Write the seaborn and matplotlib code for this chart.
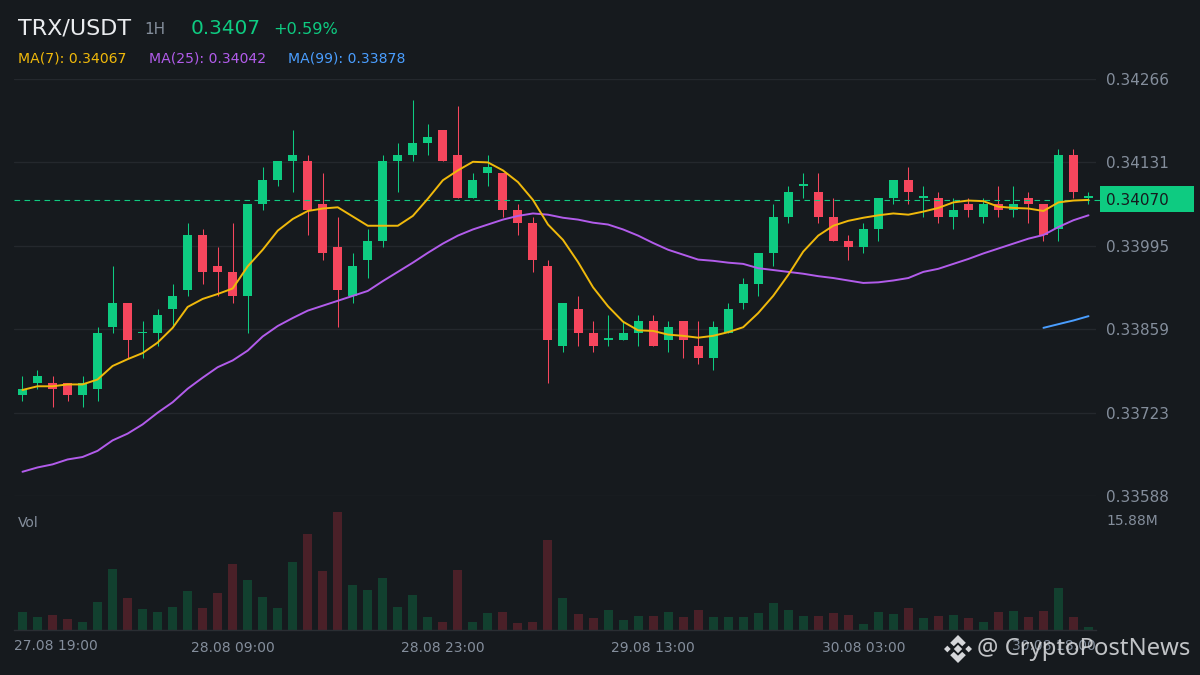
import matplotlib
matplotlib.use("Agg")
import matplotlib.pyplot as plt
from matplotlib.patches import Polygon, Rectangle
import numpy as np
import pandas as pd
import seaborn as sns

# ---- data (prices in USDT, volume in millions) ----
opens = [.3375,.3377,.3377,.3377,.3375,.3376,.3386,.3390,.3385,.3385,.3389,.3392,.3401,.3396,.3395,.3391,.3406,.3410,
         .3413,.3413,.3406,.3399,.3391,.3397,.3400,.3413,.3414,.3416,.3418,.3414,.3407,.3411,.3411,.3405,.3403,.3396,
         .3383,.3389,.3385,.3384,.3384,.3385,.3387,.3384,.3387,.3383,.3381,.3385,.3390,.3393,.3398,.3404,.3409,.3408,
         .3404,.3400,.3399,.3402,.3407,.3410,.3407,.3407,.3404,.3406,.3404,.3406,.3405,.3407,.3406,.3402,.3414,.3407]
highs = [.3378,.3379,.3378,.3377,.3378,.3386,.3396,.3390,.3387,.3389,.3393,.3403,.3402,.3399,.3403,.3406,.3412,.3413,
         .3418,.3414,.3411,.3404,.3398,.3402,.3414,.3416,.3423,.3419,.3418,.3422,.3411,.3414,.3411,.3406,.3404,.3397,
         .3390,.3391,.3387,.3388,.3387,.3388,.3388,.3387,.3387,.3387,.3387,.3390,.3394,.3398,.3406,.3409,.3411,.3411,
         .3407,.3401,.3403,.3407,.3410,.3412,.3409,.3408,.3407,.3407,.3407,.3409,.3409,.3408,.3406,.3415,.3415,.3408]
lows = [.3374,.3376,.3373,.3374,.3373,.3374,.3385,.3381,.3381,.3383,.3386,.3391,.3393,.3391,.3390,.3385,.3405,.3409,
        .3408,.3401,.3397,.3386,.3390,.3394,.3399,.3408,.3413,.3414,.3413,.3407,.3407,.3409,.3404,.3401,.3395,.3377,
        .3382,.3383,.3382,.3383,.3384,.3383,.3383,.3382,.3381,.3380,.3379,.3385,.3389,.3391,.3396,.3403,.3407,.3403,
        .3400,.3397,.3398,.3400,.3406,.3406,.3404,.3403,.3402,.3404,.3403,.3404,.3404,.3403,.3400,.3400,.3407,.3406]
closes = [.3376,.3378,.3376,.3375,.3377,.3385,.3390,.3384,.3385,.3388,.3391,.3401,.3395,.3395,.3391,.3406,.3410,.3413,
          .3414,.3405,.3398,.3392,.3396,.3400,.3413,.3414,.3416,.3417,.3413,.3407,.3410,.3412,.3405,.3403,.3397,.3384,
          .3390,.3385,.3383,.3384,.3385,.3387,.3383,.3386,.3384,.3381,.3386,.3389,.3393,.3398,.3404,.3408,.3409,.3404,
          .3400,.3399,.3402,.3407,.3410,.3408,.3407,.3404,.3405,.3405,.3406,.3405,.3406,.3406,.3401,.3414,.3408,.3407]
ma7 = [.33758,.33764,.33764,.33767,.33767,.33775,.33797,.33808,.33818,.33835,.33859,.33893,.33906,.33914,.33923,.33959,
       .33986,.34017,.34036,.34049,.34053,.34055,.34040,.34025,.34025,.34025,.34041,.34069,.34099,.34115,.34129,.34128,
       .34115,.34096,.34067,.34027,.34002,.33966,.33925,.33894,.33869,.33855,.33854,.33848,.33846,.33843,.33846,.33852,
       .33860,.33883,.33911,.33945,.33983,.34009,.34025,.34033,.34038,.34042,.34045,.34043,.34048,.34054,.34063,.34066,
       .34065,.34056,.34054,.34053,.34049,.34063,.34066,.34067]
ma25 = [.33625,.33632,.33637,.33645,.33649,.33659,.33676,.33687,.33702,.33721,.33738,.33760,.33778,.33795,.33806,.33822,
        .33845,.33862,.33875,.33887,.33895,.33903,.33911,.33919,.33935,.33950,.33965,.33981,.33996,.34009,.34019,.34027,
        .34035,.34041,.34045,.34043,.34038,.34035,.34030,.34027,.34019,.34009,.33997,.33986,.33978,.33970,.33968,.33965,
        .33963,.33956,.33953,.33950,.33947,.33943,.33940,.33936,.33932,.33933,.33936,.33940,.33950,.33955,.33963,.33971,
        .33980,.33988,.33996,.34004,.34010,.34023,.34034,.34042]
ma99_index = [68, 69, 70, 71]
ma99 = [.33859, .33865, .33871, .33878]
volume = [2.42,1.75,2.02,1.48,1.08,3.77,8.21,4.31,2.83,2.42,3.10,5.25,2.96,4.98,8.88,6.73,4.44,2.96,9.15,12.92,7.94,15.88,
          6.06,5.38,7.00,3.10,4.71,1.75,1.08,8.07,1.08,2.29,2.42,0.94,1.08,12.11,4.31,2.15,1.62,2.69,1.35,1.88,1.88,2.42,
          1.75,2.69,1.75,1.75,1.75,2.29,3.63,2.69,1.88,1.88,2.29,2.02,0.81,2.42,2.15,2.96,1.62,1.88,2.02,1.62,1.08,2.42,
          2.56,1.75,2.56,5.65,1.75,0.40]
price_ticks = [0.34266, 0.34131, 0.33995, 0.33859, 0.33723, 0.33588]
x_tick_index = [14, 28, 42, 56]
x_tick_labels = ["28.08 09:00", "28.08 23:00", "29.08 13:00", "30.08 03:00"]
first_label, last_label = "27.08 19:00", "30.08 18:00"
last_price = 0.3407

BG, GRID, TXT = "#161A1E", "#24282D", "#848E9C"
GREEN, RED = "#0ECB81", "#F6465D"
VGREEN, VRED = "#12402F", "#4A2028"
CANDLE_SHIFT = 0.000024   # candles and averages sit about 1.5 px above their axis position in the original

sns.set_theme(style="dark", rc={"figure.facecolor": BG, "axes.facecolor": BG, "savefig.facecolor": BG})
plt.rcParams["font.family"] = ["DejaVu Sans"]

W, H = 1200, 675
fig = plt.figure(figsize=(12, 6.75), dpi=100)

def px_axes(x0, ytop, x1, ybot):
    return fig.add_axes([x0 / W, 1 - ybot / H, (x1 - x0) / W, (ybot - ytop) / H])

df = pd.DataFrame({"i": np.arange(len(opens)), "open": opens, "high": highs, "low": lows, "close": closes,
                   "ma7": ma7, "ma25": ma25, "volume": volume})
df["up"] = df["close"] >= df["open"]
df["color"] = np.where(df["up"], GREEN, RED)

XLIM = (-0.565, 71.50)

# price panel
ax = px_axes(14, 79, 1096, 496)
ax.set_xlim(*XLIM)
ax.set_ylim(price_ticks[-1], price_ticks[0])
ax.set_yticks(price_ticks)
ax.yaxis.tick_right()
ax.set_yticklabels([f"{t:.5f}" for t in price_ticks])
ax.tick_params(axis="y", length=0, pad=7, labelsize=11, labelcolor=TXT)
ax.set_xticks([])
ax.grid(True, axis="y", color=GRID, lw=1)
ax.set_axisbelow(True)
for s in ax.spines.values():
    s.set_visible(False)

ax.vlines(df["i"], df["low"] + CANDLE_SHIFT, df["high"] + CANDLE_SHIFT, colors=df["color"], lw=0.75, zorder=2)
body_low = df[["open", "close"]].min(axis=1)
body_h = (df["close"] - df["open"]).abs().clip(lower=0.00003)
ax.bar(df["i"], body_h, bottom=body_low + CANDLE_SHIFT, width=0.6, color=df["color"], lw=0, zorder=3)

sns.lineplot(x=df["i"], y=df["ma7"] + CANDLE_SHIFT, ax=ax, color="#F0B90B", lw=1.4, zorder=5, legend=False)
sns.lineplot(x=df["i"], y=df["ma25"] + CANDLE_SHIFT, ax=ax, color="#B25CEB", lw=1.4, zorder=4, legend=False)
sns.lineplot(x=ma99_index, y=np.array(ma99) + CANDLE_SHIFT, ax=ax, color="#4A9EFF", lw=1.4, zorder=4, legend=False)
ax.set_xlabel(""); ax.set_ylabel("")
ax.set_xlim(*XLIM)
ax.set_ylim(price_ticks[-1], price_ticks[0])

ax.plot([XLIM[0], 71.75], [last_price, last_price], color=GREEN, lw=0.8, ls=(0, (5, 4)), zorder=3, clip_on=False)

# last price tag
fig.patches.append(Rectangle((1100 / W, 1 - 212 / H), 94 / W, 26 / H, transform=fig.transFigure,
                             facecolor=GREEN, edgecolor="none", zorder=6))
fig.text(1106 / W, 1 - 200.5 / H, f"{last_price:.5f}", color="#161A1E", fontsize=11, va="center", ha="left", zorder=7)

# volume panel
vax = px_axes(14, 500, 1096, 630)
vmax_h = 118.5
vax.set_ylim(0, max(volume) * 130 / vmax_h)
sns.barplot(data=df, x="i", y="volume", hue="up", palette={True: VGREEN, False: VRED}, dodge=False,
            native_scale=True, width=0.6, legend=False, ax=vax, saturation=1, linewidth=0, edgecolor="none")
vax.set_xlim(*XLIM)
vax.set_xlabel(""); vax.set_ylabel("")
vax.set_yticks([])
vax.set_xticks(x_tick_index)
vax.set_xticklabels(x_tick_labels)
vax.tick_params(axis="x", length=0, pad=8, labelsize=10, labelcolor=TXT)
for s in ("top", "left", "right"):
    vax.spines[s].set_visible(False)
vax.spines["bottom"].set_color("#2A2E33")
vax.spines["bottom"].set_linewidth(1)

xlab_y = 1 - 646.5 / H
fig.text(14 / W, xlab_y, first_label, color=TXT, fontsize=10, ha="left", va="center")
fig.text(1096 / W, xlab_y, last_label, color=TXT, fontsize=10, ha="right", va="center")
fig.text(18 / W, 1 - 523 / H, "Vol", color=TXT, fontsize=10, ha="left", va="center")
fig.text(1106 / W, 1 - 521 / H, "15.88M", color=TXT, fontsize=10, ha="left", va="center")

# header
hy = 1 - 28 / H
fig.text(18 / W, hy, "TRX/USDT", color="#EAECEF", fontsize=16, ha="left", va="center")
fig.text(144 / W, 1 - 30 / H, "1H", color=TXT, fontsize=11, ha="left", va="center")
fig.text(191 / W, hy, "0.3407", color=GREEN, fontsize=14.4, ha="left", va="center")
fig.text(273 / W, 1 - 29 / H, "+0.59%", color=GREEN, fontsize=11.6, ha="left", va="center")
my = 1 - 58 / H
fig.text(18 / W, my, "MA(7): 0.34067", color="#F0B90B", fontsize=10.1, ha="left", va="center")
fig.text(149 / W, my, "MA(25): 0.34042", color="#B25CEB", fontsize=10.1, ha="left", va="center")
fig.text(288 / W, my, "MA(99): 0.33878", color="#4A9EFF", fontsize=10.1, ha="left", va="center")

# watermark
WM = "#D5D7DA"
fig.text(977 / W, 1 - 649 / H, "@ CryptoPostNews", color=WM, fontsize=17.2, ha="left", va="center",
         family="Noto Sans", alpha=0.9, zorder=8)
lax = px_axes(944, 635, 972, 663)
lax.set_xlim(-1, 1); lax.set_ylim(-1, 1); lax.axis("off")
def dia(cx, cy, r):
    lax.add_patch(Polygon([(cx - r, cy), (cx, cy + r), (cx + r, cy), (cx, cy - r)], color=WM, lw=0))
dia(0, 0, 0.3); dia(-0.76, 0, 0.24); dia(0.76, 0, 0.24)
for sgn in (1, -1):
    lax.add_patch(Polygon([(0, sgn * 1.0), (0.56, sgn * 0.44), (0.3, sgn * 0.2), (0, sgn * 0.48),
                           (-0.3, sgn * 0.2), (-0.56, sgn * 0.44)], color=WM, lw=0))

fig.savefig("out.png", dpi=100, facecolor=BG)
